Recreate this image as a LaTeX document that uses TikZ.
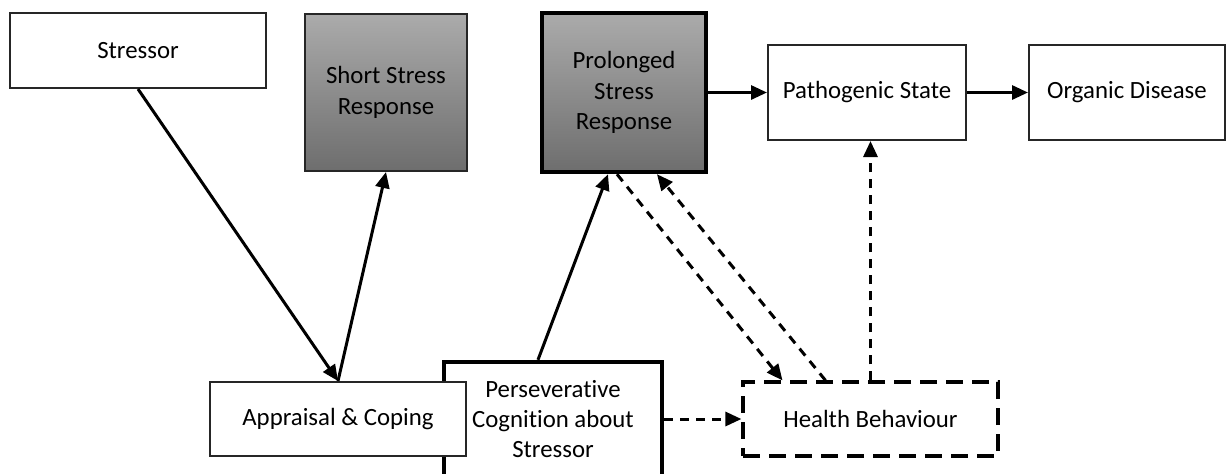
\documentclass[tikz,border=0pt]{standalone}
\usepackage{fontspec}
\setmainfont[Ligatures=NoCommon]{Carlito}
\usetikzlibrary{arrows.meta,calc}
\tikzset{
  box/.style={draw=black!85, line width=1pt, fill=white, align=center, inner sep=0pt,
    font=\fontsize{12.4pt}{15.2pt}\selectfont},
  graybox/.style={box, top color=black!33, bottom color=black!57},
  thickbox/.style={line width=2.2pt, draw=black},
  dashbox/.style={box, line width=1.6pt, draw=black, dash pattern=on 8.5pt off 4.5pt},
  arr/.style={line width=1.5pt, -{Triangle[length=8pt,width=7pt]}},
  darr/.style={arr, dash pattern=on 4.5pt off 3.5pt},
}
\begin{document}
\begin{tikzpicture}[x=0.5pt,y=-0.5pt]
\useasboundingbox (0,0) rectangle (1226,473);
\node[box, minimum width=128pt, minimum height=37.5pt] (stressor) at (138,50.5) {Stressor};
\node[graybox, minimum width=81pt, minimum height=78.5pt] (short) at (386,92.5) {Short Stress\\Response};
\node[graybox, thickbox, minimum width=82pt, minimum height=79.5pt] (prol) at (624,92.5) {Prolonged\\Stress\\Response};
\node[box, minimum width=99pt, minimum height=47.5pt] (path) at (867,92.5) {Pathogenic State};
\node[box, minimum width=98pt, minimum height=47.5pt] (org) at (1127,92.5) {Organic Disease};
\node[box, thickbox, minimum width=109pt, minimum height=57pt] (pers) at (553,419) {Perseverative\\Cognition about\\Stressor};
\node[box, minimum width=128pt, minimum height=37pt] (appr) at (338,419) {Appraisal \& Coping};
\node[dashbox, minimum width=127.5pt, minimum height=37pt] (health) at (870.5,419) {Health Behaviour};

\draw[arr] (stressor.south) -- (appr.north);
\draw[arr] (appr.north) -- (short.south);
\draw[arr] ($(pers.north)+(-15,0)$) -- ($(prol.south)+(-16,0)$);
\draw[arr] (prol.east) -- (path.west);
\draw[arr] (path.east) -- (org.west);
\draw[darr] ($(prol.south)+(-7,0)$) -- ($(health.north)+(-88,0)$);
\draw[darr] ($(health.north)+(-45,0)$) -- ($(prol.south)+(33,0)$);
\draw[darr] (health.north) -- (health.north |- path.south);
\draw[darr] (pers.east) -- (health.west);
\end{tikzpicture}
\end{document}
